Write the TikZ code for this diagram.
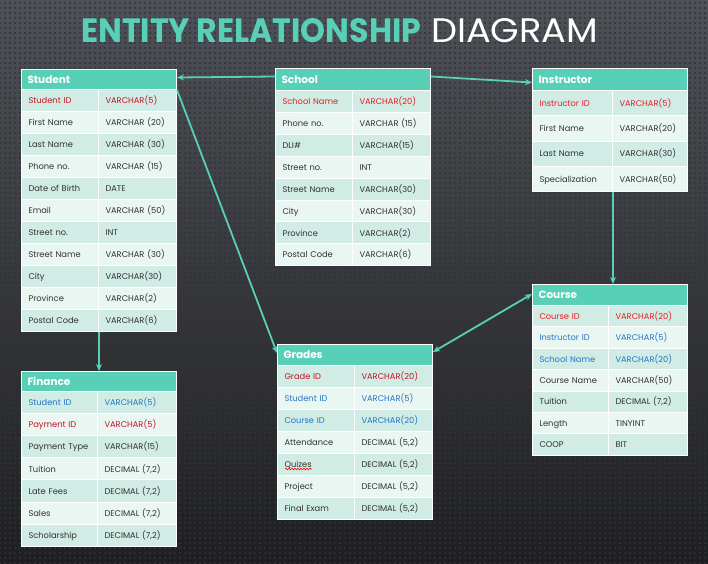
\documentclass[tikz,border=0pt]{standalone}
\usepackage{fontspec}
\setmainfont{Poppins}
\usepackage{graphicx}
\usetikzlibrary{arrows.meta,patterns.meta,decorations.pathmorphing}

\definecolor{erteal}{RGB}{88,208,183}
\definecolor{rowdark}{RGB}{208,236,229}
\definecolor{rowlight}{RGB}{234,246,242}
\definecolor{celltext}{RGB}{50,50,50}
\definecolor{pkred}{RGB}{232,30,38}
\definecolor{pkdark}{RGB}{196,22,32}
\definecolor{fkblue}{RGB}{36,118,196}
\definecolor{bgtop}{RGB}{78,81,87}
\definecolor{bgbot}{RGB}{30,31,34}

% one entity table: name, x, y, header height, key width, row height, title, rows
\newcommand\ertable[8]{%
  \node[tblhead,minimum height=#4pt] (#1) at (#2,#3) {#7};
  \pgfmathsetmacro\kw{#5-14}
  \pgfmathsetmacro\tw{155-#5-14}
  \pgfmathsetmacro\tx{#2+#5}
  \foreach \k/\t/\c [count=\i] in {#8}{
    \pgfmathsetmacro\ry{#3+#4+(\i-1)*#6}
    \ifodd\i\def\rowfill{rowdark}\else\def\rowfill{rowlight}\fi
    \node[cell,fill=\rowfill,text=\c,minimum height=#6pt,text width=\kw pt] (#1-k\i) at (#2,\ry) {\k};
    \node[cell,fill=\rowfill,text=\c,minimum height=#6pt,text width=\tw pt] (#1-t\i) at (\tx,\ry) {\t};
  }
}

\begin{document}
\begin{tikzpicture}[x=1pt,y=-1pt,
  tblhead/.style={anchor=north west,fill=erteal,draw=white,line width=1pt,text=white,
    font=\bfseries\fontsize{10.5}{13}\selectfont,inner xsep=6pt,text width=143pt,align=left},
  cell/.style={anchor=north west,draw=white,line width=1pt,inner xsep=7pt,align=left,
    font=\fontsize{8.3}{10}\selectfont,text height=1.5ex,text depth=0.35ex},
  link/.style={draw=erteal,line width=1.8pt,-{Stealth[length=7pt,width=6pt]}},
  biglink/.style={draw=erteal,line width=1.8pt,{Stealth[length=7pt,width=6pt]}-{Stealth[length=7pt,width=6pt]}},
  squig/.style={draw=red,line width=0.6pt,decorate,decoration={snake,amplitude=0.8pt,segment length=3pt}}]
  % background
  \fill[top color=bgtop,bottom color=bgbot] (0,0) rectangle (708,563);
  \fill[pattern={Dots[distance=5pt,radius=1.2pt]},pattern color=black!80] (0,0) rectangle (708,563);
  \useasboundingbox (0,0) rectangle (708,563);

  % title
  \node[anchor=base west,inner sep=0pt,text=erteal] (ttl1) at (81,42)
    {\resizebox{340pt}{24pt}{\bfseries ENTITY RELATIONSHIP}};
  \node[anchor=base west,inner sep=0pt,text=white] (ttl2) at (431,42)
    {\resizebox{167pt}{24pt}{DIAGRAM}};

  % tables
  \ertable{student}{21}{69}{20}{77}{22}{Student}{
    Student ID/VARCHAR(5)/pkdark,
    First Name/VARCHAR (20)/celltext,
    Last Name/VARCHAR (30)/celltext,
    Phone no./VARCHAR (15)/celltext,
    Date of Birth/DATE/celltext,
    Email/VARCHAR (50)/celltext,
    Street no./INT/celltext,
    Street Name/VARCHAR (30)/celltext,
    City/VARCHAR(30)/celltext,
    Province/VARCHAR(2)/celltext,
    Postal Code/VARCHAR(6)/celltext}
  \ertable{school}{275}{68}{22}{77}{21.9}{School}{
    School Name/VARCHAR(20)/pkred,
    Phone no./VARCHAR (15)/celltext,
    DLI\#/VARCHAR(15)/celltext,
    Street no./INT/celltext,
    Street Name/VARCHAR(30)/celltext,
    City/VARCHAR(30)/celltext,
    Province/VARCHAR(2)/celltext,
    Postal Code/VARCHAR(6)/celltext}
  \ertable{instructor}{532}{68}{22}{80}{25.25}{Instructor}{
    Instructor ID/VARCHAR(5)/pkred,
    First Name/VARCHAR(20)/celltext,
    Last Name/VARCHAR(30)/celltext,
    Specialization/VARCHAR(50)/celltext}
  \ertable{finance}{21}{371}{20}{76}{22.1}{Finance}{
    Student ID/VARCHAR(5)/fkblue,
    Payment ID/VARCHAR(5)/pkdark,
    Payment Type/VARCHAR(15)/celltext,
    Tuition/{DECIMAL (7,2)}/celltext,
    Late Fees/{DECIMAL (7,2)}/celltext,
    Sales/{DECIMAL (7,2)}/celltext,
    Scholarship/{DECIMAL (7,2)}/celltext}
  \ertable{grades}{277}{344}{21}{77}{22}{Grades}{
    Grade ID/VARCHAR(20)/pkdark,
    Student ID/VARCHAR(5)/fkblue,
    Course ID/VARCHAR(20)/fkblue,
    Attendance/{DECIMAL (5,2)}/celltext,
    Quizes/{DECIMAL (5,2)}/celltext,
    Project/{DECIMAL (5,2)}/celltext,
    Final Exam/{DECIMAL (5,2)}/celltext}
  \ertable{course}{532}{284}{21}{76}{21.4}{Course}{
    Course ID/VARCHAR(20)/pkred,
    Instructor ID/VARCHAR(5)/fkblue,
    School Name/VARCHAR(20)/fkblue,
    Course Name/VARCHAR(50)/celltext,
    Tuition/{DECIMAL (7,2)}/celltext,
    Length/TINYINT/celltext,
    COOP/BIT/celltext}

  % spell check mark
  \draw[squig] ([xshift=8pt,yshift=7pt]grades-k5.south west) -- ++(27,0);

  % relationships
  \draw[link] ([yshift=3pt]school.west) -- ([yshift=2pt]student.east);
  \draw[link] ([yshift=3pt]school.east) -- ([yshift=-3pt]instructor.west);
  \draw[link] (student.south east) -- ([yshift=2pt]grades.west);
  \draw[link] (student-k11.south east) -- (student-k11.south east |- finance.north);
  \draw[link] (instructor-k4.south east) -- (instructor-k4.south east |- course.north);
  \draw[biglink] ([yshift=3pt]grades.east) -- ([yshift=1pt]course.west);
\end{tikzpicture}
\end{document}
